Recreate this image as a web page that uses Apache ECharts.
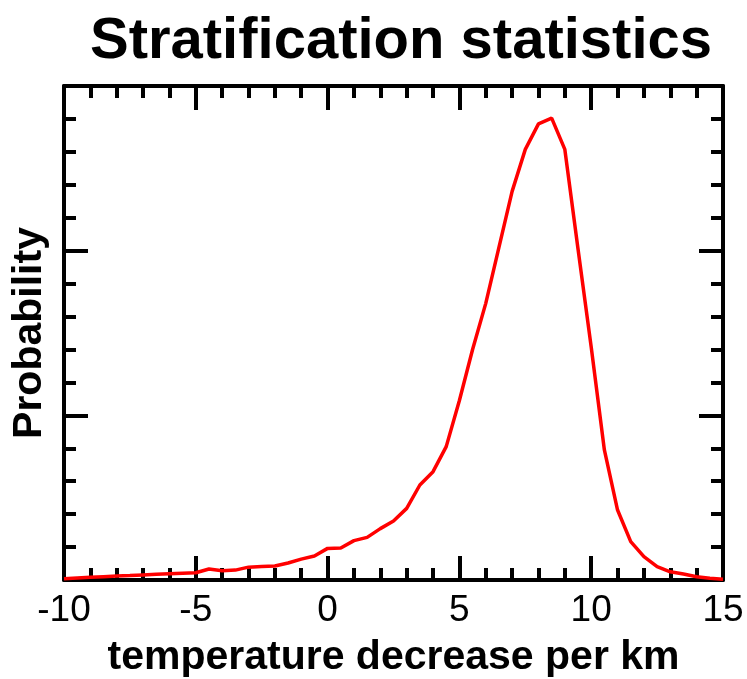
<!DOCTYPE html>
<html>
<head>
<meta charset="utf-8">
<script src="https://cdn.jsdelivr.net/npm/echarts@6/dist/echarts.min.js"></script>
<style>html,body{margin:0;padding:0;background:#fff}#c{width:747px;height:679px}</style>
</head>
<body>
<div id="c"></div>
<script>
const titleText = "Stratification statistics";
const xName = "temperature decrease per km";
const yName = "Probability";
const xValues = [-10,-9.5,-9,-8.5,-8,-7.5,-7,-6.5,-6,-5.5,-5,-4.5,-4,-3.5,-3,-2.5,-2,-1.5,-1,-0.5,0,0.5,1,1.5,2,2.5,3,3.5,4,4.5,5,5.5,6,6.5,7,7.5,8,8.5,9,9.5,10,10.5,11,11.5,12,12.5,13,13.5,14,14.5,15];
const probValues = [0.008,0.012,0.016,0.020,0.024,0.027,0.031,0.035,0.038,0.041,0.044,0.067,0.056,0.060,0.078,0.082,0.085,0.103,0.127,0.146,0.192,0.194,0.239,0.259,0.312,0.358,0.435,0.577,0.658,0.81,1.09,1.40,1.68,2.02,2.36,2.615,2.77,2.805,2.615,2.01,1.415,0.79,0.425,0.233,0.142,0.081,0.050,0.036,0.020,0.010,0.004];

const FONT = "'Liberation Sans', Arial, sans-serif";
const axisCol = '#000';
const LW = 4;
function xAx(pos, show) {
  return {
    type: 'value', position: pos, min: -10, max: 15, interval: 5,
    name: show ? xName : '', nameLocation: 'middle', nameGap: 57,
    nameTextStyle: {fontFamily: FONT, fontWeight: 'bold', fontSize: 41, color: '#000'},
    axisLine: {show: true, onZero: false, lineStyle: {color: axisCol, width: LW}},
    axisTick: {show: true, inside: true, length: 24, lineStyle: {color: axisCol, width: LW}},
    minorTick: {show: true, splitNumber: 5, length: 12, lineStyle: {color: axisCol, width: LW}},
    axisLabel: {show: show, margin: 12, fontFamily: FONT, fontSize: 37, color: '#000'},
    splitLine: {show: false}
  };
}
function yAx(pos, show) {
  return {
    type: 'value', position: pos, min: 0, max: 3, interval: 1,
    name: show ? yName : '', nameLocation: 'middle', nameGap: 14,
    nameTextStyle: {fontFamily: FONT, fontWeight: 'bold', fontSize: 41, color: '#000'},
    axisLine: {show: true, onZero: false, lineStyle: {color: axisCol, width: LW}},
    axisTick: {show: true, inside: true, length: 24, lineStyle: {color: axisCol, width: LW}},
    minorTick: {show: true, splitNumber: 5, length: 12, lineStyle: {color: axisCol, width: LW}},
    axisLabel: {show: false},
    splitLine: {show: false}
  };
}
const chart = echarts.init(document.getElementById('c'), null, {renderer: 'canvas'});
chart.setOption({
  backgroundColor: '#fff',
  animation: false,
  title: {text: titleText, left: 396, textAlign: 'center', top: 8,
    textStyle: {fontFamily: FONT, fontWeight: 'bold', fontSize: 58, color: '#000'}},
  grid: {left: 64, right: 24, top: 86, bottom: 99, containLabel: false, outerBoundsMode: 'none'},
  xAxis: [xAx('bottom', true), xAx('top', false)],
  yAxis: [yAx('left', true), yAx('right', false)],
  series: [{
    type: 'line', xAxisIndex: 0, yAxisIndex: 0,
    data: xValues.map((x, i) => [x, probValues[i]]),
    symbol: 'none', smooth: false,
    lineStyle: {color: '#ff0000', width: 3.5}
  }]
});
</script>
</body>
</html>
